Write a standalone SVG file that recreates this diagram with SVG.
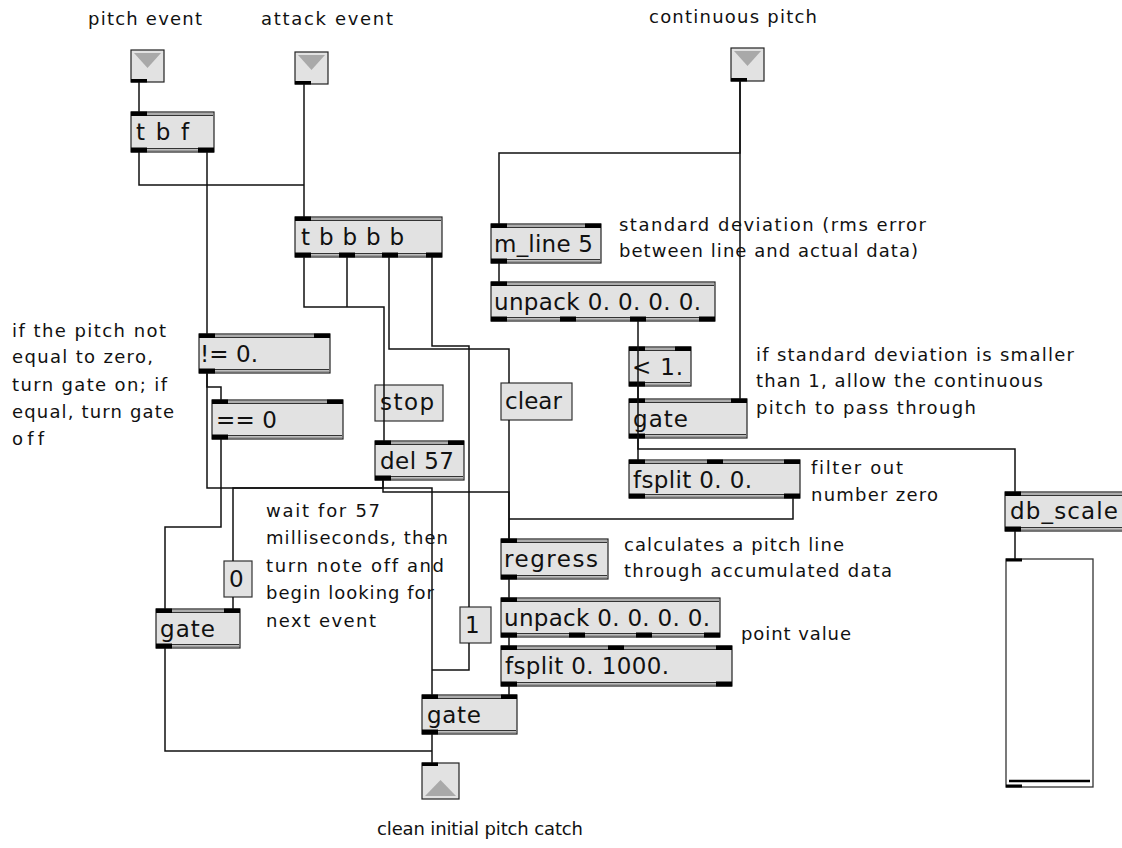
<svg xmlns="http://www.w3.org/2000/svg" width="1122" height="848" viewBox="0 0 1122 848">
<style>
  .box{fill:#e2e2e2;stroke:#222;stroke-width:1.2}
  .msg{fill:#e2e2e2;stroke:#333;stroke-width:1.2}
  .dl{fill:none;stroke:#333;stroke-width:1}
  .band{fill:none;stroke:#9a9a9a;stroke-width:1.6}
  .io{fill:#000}
  text{font-variant-ligatures:none;font-feature-settings:"liga" 0}
  .ot{font-family:"DejaVu Sans",Verdana,sans-serif;font-size:23px;fill:#111}
  .c{font-family:"DejaVu Sans",Verdana,sans-serif;font-size:18px;fill:#111}
  .tri{fill:#a9a9a9}
  .w{fill:none;stroke:#111;stroke-width:1.5}
</style>

<!-- labels / comments -->
<g id="comments">
  <text class="c" x="88" y="25" textLength="114" lengthAdjust="spacing">pitch event</text>
  <text class="c" x="261" y="25" textLength="132" lengthAdjust="spacing">attack event</text>
  <text class="c" x="649" y="23" textLength="168" lengthAdjust="spacing">continuous pitch</text>
  <text class="c" x="619" y="231" textLength="307" lengthAdjust="spacing">standard deviation (rms error</text>
  <text class="c" x="619" y="257" textLength="299" lengthAdjust="spacing">between line and actual data)</text>
  <text class="c" x="12" y="337" textLength="154" lengthAdjust="spacing">if the pitch not</text>
  <text class="c" x="12" y="363" textLength="141" lengthAdjust="spacing">equal to zero,</text>
  <text class="c" x="12" y="391" textLength="155" lengthAdjust="spacing">turn gate on; if</text>
  <text class="c" x="12" y="418" textLength="162" lengthAdjust="spacing">equal, turn gate</text>
  <text class="c" x="12" y="445" textLength="32" lengthAdjust="spacing">off</text>
  <text class="c" x="756" y="361" textLength="318" lengthAdjust="spacing">if standard deviation is smaller</text>
  <text class="c" x="756" y="387" textLength="287" lengthAdjust="spacing">than 1, allow the continuous</text>
  <text class="c" x="756" y="414" textLength="220" lengthAdjust="spacing">pitch to pass through</text>
  <text class="c" x="811" y="474" textLength="92" lengthAdjust="spacing">filter out</text>
  <text class="c" x="811" y="501" textLength="127" lengthAdjust="spacing">number zero</text>
  <text class="c" x="266" y="517" textLength="114" lengthAdjust="spacing">wait for 57</text>
  <text class="c" x="266" y="544" textLength="182" lengthAdjust="spacing">milliseconds, then</text>
  <text class="c" x="266" y="572" textLength="178" lengthAdjust="spacing">turn note off and</text>
  <text class="c" x="266" y="599" textLength="168" lengthAdjust="spacing">begin looking for</text>
  <text class="c" x="266" y="627" textLength="110" lengthAdjust="spacing">next event</text>
  <text class="c" x="624" y="551" textLength="220" lengthAdjust="spacing">calculates a pitch line</text>
  <text class="c" x="624" y="577" textLength="268" lengthAdjust="spacing">through accumulated data</text>
  <text class="c" x="741" y="640" textLength="110" lengthAdjust="spacing">point value</text>
  <text class="c" x="377" y="835" textLength="206" lengthAdjust="spacing">clean initial pitch catch</text>
</g>

<!-- inlets -->
<g id="in_pitch">
  <rect class="box" x="131" y="50" width="33" height="32"/>
  <polygon class="tri" points="134,53 161,53 147.5,68"/>
  <rect class="io" x="131" y="79" width="16" height="3.5"/>
</g>
<g id="in_attack">
  <rect class="box" x="295" y="52" width="33" height="32"/>
  <polygon class="tri" points="298,55 325,55 311.5,70"/>
  <rect class="io" x="295" y="81" width="16" height="3.5"/>
</g>
<g id="in_cont">
  <rect class="box" x="731" y="48" width="33" height="33"/>
  <polygon class="tri" points="734,51 761,51 747.5,66"/>
  <rect class="io" x="731" y="78" width="16" height="3.5"/>
</g>

<!-- objects -->
<g id="tbf">
  <rect class="box" x="131" y="112" width="83" height="40"/>
  <path class="band" d="M132,114 H213 M132,150.2 H213"/>
  <path class="dl" d="M132,115.5 H213 M132,148.5 H213"/>
  <rect class="io" x="131" y="111.5" width="16" height="4.5"/>
  <rect class="io" x="131" y="147.5" width="16" height="5"/>
  <rect class="io" x="198" y="147.5" width="16" height="5"/>
  <text class="ot" x="136" y="140" textLength="53" lengthAdjust="spacing">t b f</text>
</g>

<g id="tbbbb">
  <rect class="box" x="295" y="217" width="147" height="40"/>
  <path class="band" d="M296,219 H441 M296,255.2 H441"/>
  <path class="dl" d="M296,220.5 H441 M296,253.5 H441"/>
  <rect class="io" x="295" y="216.5" width="16" height="4.5"/>
  <rect class="io" x="295" y="252.5" width="16" height="5"/>
  <rect class="io" x="339" y="252.5" width="16" height="5"/>
  <rect class="io" x="382" y="252.5" width="16" height="5"/>
  <rect class="io" x="426" y="252.5" width="16" height="5"/>
  <text class="ot" x="301" y="245" textLength="103" lengthAdjust="spacing">t b b b b</text>
</g>

<g id="mline">
  <rect class="box" x="491" y="224" width="110" height="39"/>
  <path class="band" d="M492,226 H600 M492,261.2 H600"/>
  <path class="dl" d="M492,227.5 H600 M492,259.5 H600"/>
  <rect class="io" x="491" y="223.5" width="16" height="4.5"/>
  <rect class="io" x="585" y="223.5" width="16" height="4.5"/>
  <rect class="io" x="491" y="258.5" width="16" height="5"/>
  <text class="ot" x="494" y="252" textLength="99" lengthAdjust="spacing">m_line 5</text>
</g>

<g id="unpack1">
  <rect class="box" x="491" y="282" width="224" height="39"/>
  <path class="band" d="M492,284 H714 M492,319.2 H714"/>
  <path class="dl" d="M492,285.5 H714 M492,317.5 H714"/>
  <rect class="io" x="491" y="281.5" width="16" height="4.5"/>
  <rect class="io" x="491" y="316.5" width="16" height="5"/>
  <rect class="io" x="560" y="316.5" width="16" height="5"/>
  <rect class="io" x="630" y="316.5" width="16" height="5"/>
  <rect class="io" x="699" y="316.5" width="16" height="5"/>
  <text class="ot" x="494" y="310" textLength="207" lengthAdjust="spacing">unpack 0. 0. 0. 0.</text>
</g>

<g id="lt1">
  <rect class="box" x="629" y="347" width="62" height="39"/>
  <path class="band" d="M630,349 H690 M630,384.2 H690"/>
  <path class="dl" d="M630,350.5 H690 M630,382.5 H690"/>
  <rect class="io" x="629" y="346.5" width="16" height="4.5"/>
  <rect class="io" x="675" y="346.5" width="16" height="4.5"/>
  <rect class="io" x="629" y="381.5" width="16" height="5"/>
  <text class="ot" x="632" y="375" textLength="51" lengthAdjust="spacing">&lt; 1.</text>
</g>

<g id="gate_r">
  <rect class="box" x="629" y="399" width="118" height="39"/>
  <path class="band" d="M630,401 H746 M630,436.2 H746"/>
  <path class="dl" d="M630,402.5 H746 M630,434.5 H746"/>
  <rect class="io" x="629" y="398.5" width="16" height="4.5"/>
  <rect class="io" x="731" y="398.5" width="16" height="4.5"/>
  <rect class="io" x="629" y="433.5" width="16" height="5"/>
  <text class="ot" x="633" y="427" textLength="55" lengthAdjust="spacing">gate</text>
</g>

<g id="fsplit1">
  <rect class="box" x="629" y="460" width="171" height="38"/>
  <path class="band" d="M630,462 H799 M630,496.2 H799"/>
  <path class="dl" d="M630,463.5 H799 M630,494.5 H799"/>
  <rect class="io" x="629" y="459.5" width="16" height="4.5"/>
  <rect class="io" x="707" y="459.5" width="16" height="4.5"/>
  <rect class="io" x="784" y="459.5" width="16" height="4.5"/>
  <rect class="io" x="629" y="493.5" width="16" height="5"/>
  <rect class="io" x="784" y="493.5" width="16" height="5"/>
  <text class="ot" x="633" y="488" textLength="119" lengthAdjust="spacing">fsplit 0. 0.</text>
</g>

<g id="dbscale">
  <rect class="box" x="1005" y="492" width="122" height="39"/>
  <path class="band" d="M1006,494 H1122 M1006,529.2 H1122"/>
  <path class="dl" d="M1006,495.5 H1122 M1006,527.5 H1122"/>
  <rect class="io" x="1005" y="491.5" width="16" height="4.5"/>
  <rect class="io" x="1005" y="526.5" width="16" height="5"/>
  <text class="ot" x="1010" y="519" textLength="108" lengthAdjust="spacing">db_scale</text>
</g>

<g id="slider">
  <rect x="1006" y="559" width="87" height="228" fill="#fff" stroke="#333" stroke-width="1.3"/>
  <rect class="io" x="1006" y="558.5" width="16" height="3"/>
  <rect class="io" x="1006" y="784.5" width="16" height="3"/>
  <line x1="1009" y1="781" x2="1090" y2="781" stroke="#000" stroke-width="2.5"/>
</g>

<g id="neq">
  <rect class="box" x="199" y="334" width="131" height="39"/>
  <path class="band" d="M200,336 H329 M200,371.2 H329"/>
  <path class="dl" d="M200,337.5 H329 M200,369.5 H329"/>
  <rect class="io" x="199" y="333.5" width="16" height="4.5"/>
  <rect class="io" x="314" y="333.5" width="16" height="4.5"/>
  <rect class="io" x="199" y="368.5" width="16" height="5"/>
  <text class="ot" x="200" y="362" textLength="58" lengthAdjust="spacing">!= 0.</text>
</g>

<g id="eq">
  <rect class="box" x="212" y="400" width="131" height="39"/>
  <path class="band" d="M213,402 H342 M213,437.2 H342"/>
  <path class="dl" d="M213,403.5 H342 M213,435.5 H342"/>
  <rect class="io" x="212" y="399.5" width="16" height="4.5"/>
  <rect class="io" x="327" y="399.5" width="16" height="4.5"/>
  <rect class="io" x="212" y="434.5" width="16" height="5"/>
  <text class="ot" x="216" y="428" textLength="61" lengthAdjust="spacing">== 0</text>
</g>

<g id="stop">
  <rect class="msg" x="375" y="385" width="68" height="36"/>
  <text class="ot" x="380" y="410" textLength="54" lengthAdjust="spacing">stop</text>
</g>

<g id="del">
  <rect class="box" x="375" y="441" width="89" height="39"/>
  <path class="band" d="M376,443 H463 M376,478.2 H463"/>
  <path class="dl" d="M376,444.5 H463 M376,476.5 H463"/>
  <rect class="io" x="375" y="440.5" width="16" height="4.5"/>
  <rect class="io" x="448" y="440.5" width="16" height="4.5"/>
  <rect class="io" x="375" y="475.5" width="16" height="5"/>
  <text class="ot" x="380" y="469" textLength="74" lengthAdjust="spacing">del 57</text>
</g>

<g id="clear">
  <rect class="msg" x="501" y="383" width="71" height="37"/>
  <text class="ot" x="505" y="409" textLength="57" lengthAdjust="spacing">clear</text>
</g>

<g id="msg0">
  <rect class="msg" x="224" y="561" width="28" height="36"/>
  <text class="ot" x="229" y="587">0</text>
</g>

<g id="gate_l">
  <rect class="box" x="156" y="609" width="84" height="39"/>
  <path class="band" d="M157,611 H239 M157,646.2 H239"/>
  <path class="dl" d="M157,612.5 H239 M157,644.5 H239"/>
  <rect class="io" x="156" y="608.5" width="16" height="4.5"/>
  <rect class="io" x="224" y="608.5" width="16" height="4.5"/>
  <rect class="io" x="156" y="643.5" width="16" height="5"/>
  <text class="ot" x="160" y="637" textLength="55" lengthAdjust="spacing">gate</text>
</g>

<g id="msg1">
  <rect class="msg" x="460" y="607" width="31" height="36"/>
  <text class="ot" x="465" y="633">1</text>
</g>

<g id="regress">
  <rect class="box" x="501" y="539" width="107" height="40"/>
  <path class="band" d="M502,541 H607 M502,577.2 H607"/>
  <path class="dl" d="M502,542.5 H607 M502,575.5 H607"/>
  <rect class="io" x="501" y="538.5" width="16" height="4.5"/>
  <rect class="io" x="501" y="574.5" width="16" height="5"/>
  <text class="ot" x="504" y="567" textLength="94" lengthAdjust="spacing">regress</text>
</g>

<g id="unpack2">
  <rect class="box" x="501" y="598" width="219" height="39"/>
  <path class="band" d="M502,600 H719 M502,635.2 H719"/>
  <path class="dl" d="M502,601.5 H719 M502,633.5 H719"/>
  <rect class="io" x="501" y="597.5" width="16" height="4.5"/>
  <rect class="io" x="501" y="632.5" width="16" height="5"/>
  <rect class="io" x="569" y="632.5" width="16" height="5"/>
  <rect class="io" x="636" y="632.5" width="16" height="5"/>
  <rect class="io" x="704" y="632.5" width="16" height="5"/>
  <text class="ot" x="504" y="626" textLength="206" lengthAdjust="spacing">unpack 0. 0. 0. 0.</text>
</g>

<g id="fsplit2">
  <rect class="box" x="501" y="646" width="231" height="40"/>
  <path class="band" d="M502,648 H731 M502,684.2 H731"/>
  <path class="dl" d="M502,649.5 H731 M502,682.5 H731"/>
  <rect class="io" x="501" y="645.5" width="16" height="4.5"/>
  <rect class="io" x="608" y="645.5" width="16" height="4.5"/>
  <rect class="io" x="716" y="645.5" width="16" height="4.5"/>
  <rect class="io" x="501" y="681.5" width="16" height="5"/>
  <rect class="io" x="716" y="681.5" width="16" height="5"/>
  <text class="ot" x="505" y="674" textLength="164" lengthAdjust="spacing">fsplit 0. 1000.</text>
</g>

<g id="gate_b">
  <rect class="box" x="422" y="695" width="95" height="39"/>
  <path class="band" d="M423,697 H516 M423,732.2 H516"/>
  <path class="dl" d="M423,698.5 H516 M423,730.5 H516"/>
  <rect class="io" x="422" y="694.5" width="16" height="4.5"/>
  <rect class="io" x="501" y="694.5" width="16" height="4.5"/>
  <rect class="io" x="422" y="729.5" width="16" height="5"/>
  <text class="ot" x="427" y="723" textLength="54" lengthAdjust="spacing">gate</text>
</g>

<g id="out">
  <rect class="box" x="422" y="763" width="37" height="36"/>
  <polygon class="tri" points="425,796 456,796 440.5,780"/>
  <rect class="io" x="422" y="762.5" width="16" height="3.5"/>
</g>

<!-- connectors -->
<g id="connectors" class="w">
  <path d="M139,82 V112"/>
  <path d="M304,84 V217"/>
  <path d="M139,152 V185 H304"/>
  <path d="M207,152 V334"/>
  <path d="M207,373 V387 H221 V400"/>
  <path d="M207,373 V488 H432 V695"/>
  <path d="M221,439 V527 H165 V609"/>
  <path d="M383,480 V488 H233 V561"/>
  <path d="M383,480 V492 H509 V539"/>
  <path d="M233,597 V609"/>
  <path d="M304,257 V307 H384 V441"/>
  <path d="M347,257 V307"/>
  <path d="M389,257 V349 H509 V383"/>
  <path d="M432,257 V346 H469 V607"/>
  <path d="M509,420 V539"/>
  <path d="M469,643 V670 H432"/>
  <path d="M740,81 V153 H499 V224"/>
  <path d="M740,81 V399"/>
  <path d="M499,263 V282"/>
  <path d="M638,321 V399"/>
  <path d="M638,386 V460"/>
  <path d="M638,438 V449 H1015 V492"/>
  <path d="M1015,531 V559"/>
  <path d="M793,498 V519 H509"/>
  <path d="M509,579 V598"/>
  <path d="M509,637 V646"/>
  <path d="M509,686 V695"/>
  <path d="M432,734 V763"/>
  <path d="M165,648 V751 H432"/>
</g>
</svg>
